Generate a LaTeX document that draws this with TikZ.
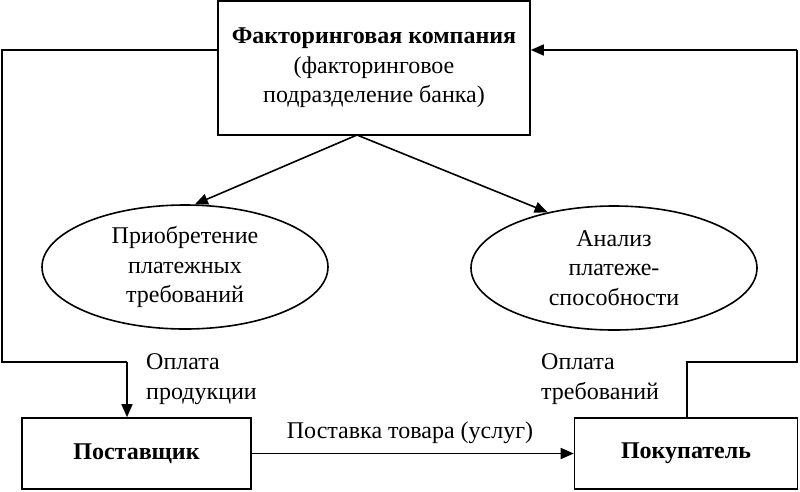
\documentclass[tikz,border=0pt]{standalone}
\usepackage{fontspec}
\setmainfont{Liberation Serif}
\usetikzlibrary{shapes.geometric,arrows.meta}
\begin{document}
\begin{tikzpicture}[x=1pt,y=-1pt,
  every node/.style={font=\fontsize{24}{29.5}\selectfont, inner sep=0pt},
  boxnode/.style={draw, line width=1.6pt, rectangle, align=center},
  ellnode/.style={draw, line width=1.6pt, ellipse, minimum width=286pt, minimum height=124pt, align=center},
  conn/.style={line width=1.6pt},
  arr/.style={conn, -{Triangle[length=13pt,width=11pt]}},
  lbl/.style={align=left, anchor=west}]
\useasboundingbox (0,0) rectangle (800,491);
\node[boxnode, minimum width=312pt, minimum height=134pt] (top) at (374,68)
  {\textbf{Факторинговая компания}\\(факторинговое\\подразделение банка)};
\node[boxnode, minimum width=229pt, minimum height=71pt] (sup) at (136.5,453.5) {\textbf{Поставщик}};
\node[boxnode, minimum width=223pt, minimum height=71pt] (buy) at (686,453.5) {\textbf{Покупатель}};
\node[ellnode] (el1) at (185,267) {Приобретение\\платежных\\требований};
\node[ellnode] (el2) at (614,268) {Анализ\\платеже-\\способности};
\coordinate (apex) at (357,135);
\coordinate (L1) at (2,50);
\coordinate (L2) at (2,362);
\coordinate (L3) at (127,362);
\coordinate (R1) at (797,362);
\coordinate (R2) at (797,50);
\coordinate (R0) at (687,362);
\draw[arr] (apex) -- (el1.81);
\draw[arr] (apex) -- (el2.140);
\draw[conn] (top.west |- L1) -- (L1) -- (L2) -- (L3);
\draw[arr] (L3) -- (L3 |- sup.north);
\draw[conn] (R0 |- buy.north) -- (R0) -- (R1) -- (R2);
\draw[arr] (R2) -- (top.east |- R2);
\draw[arr] (sup.east) -- (buy.west);
\node[lbl] (lp) at (146,379) {Оплата\\продукции};
\node[lbl] (lt) at (541,379) {Оплата\\требований};
\node (ps) at (410,433) {Поставка товара (услуг)};
\end{tikzpicture}
\end{document}
